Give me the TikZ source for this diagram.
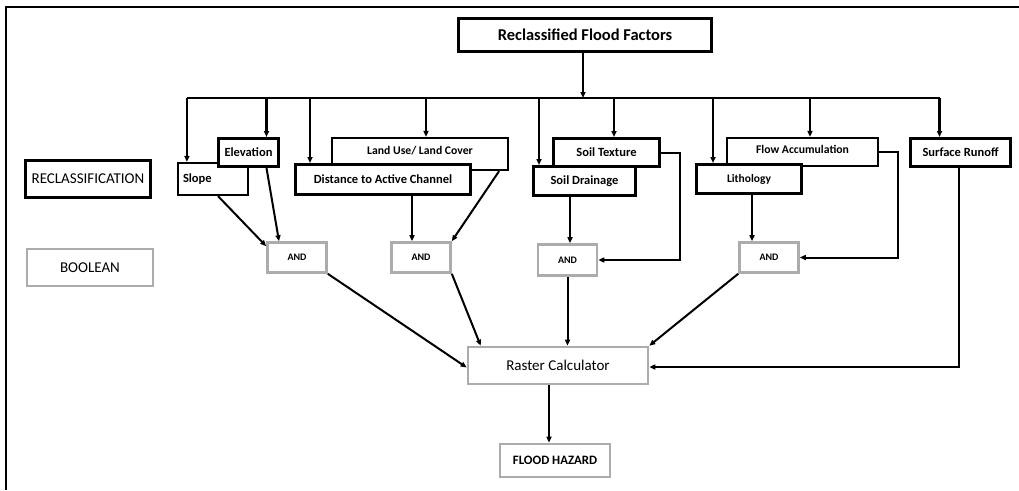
\documentclass[tikz,border=0pt]{standalone}
\usepackage{fontspec}
\setmainfont{Carlito}
\usetikzlibrary{arrows.meta}

\begin{document}
\begin{tikzpicture}[x=1pt, y=-1pt,
    factor/.style={draw, fill=white, line width=3pt, inner sep=0pt,
        font=\bfseries\fontsize{12.5}{14}\selectfont},
    thinfactor/.style={factor, line width=2.2pt},
    opbox/.style={draw=gray!65, fill=white, line width=2.6pt, inner sep=0pt},
    andbox/.style={opbox, minimum width=59pt, minimum height=30pt,
        font=\bfseries\fontsize{10}{11}\selectfont},
    legend/.style={draw, fill=white, line width=3pt, inner sep=0pt,
        font=\fontsize{15}{17}\selectfont},
    arr/.style={-{Triangle[length=6pt,width=5pt]}, line width=2pt},
    busline/.style={line width=2.8pt}]
    \useasboundingbox[fill=white] (0,0) rectangle (1019,490);

    % Frame
    \draw[line width=2.2pt] (6,490) -- (6,7) -- (1019,7);

    % Top box
    \node[factor, minimum width=253pt, minimum height=33pt,
        font=\bfseries\fontsize{16.5}{19}\selectfont] (top) at (585,35) {Reclassified Flood Factors};
    \coordinate (bus) at (583,98);

    % Factors (back ones first)
    \node[thinfactor, minimum width=70pt, minimum height=32pt, text width=60pt, align=left] (slope) at (213,179) {Slope};
    \node[factor, minimum width=60pt, minimum height=28pt] (elev) at (248.5,152.5) {Elevation};
    \node[thinfactor, minimum width=176pt, minimum height=32pt, text depth=8pt,
        font=\bfseries\fontsize{11.7}{13}\selectfont] (landuse) at (420,154) {Land Use/ Land Cover};
    \node[factor, minimum width=175pt, minimum height=30pt] (dist) at (383,179.5) {Distance to Active Channel};
    \node[factor, minimum width=106pt, minimum height=28pt] (texture) at (606.5,152.5) {Soil Texture};
    \node[factor, minimum width=102pt, minimum height=29pt] (drain) at (584.5,181) {Soil Drainage};
    \node[thinfactor, minimum width=151pt, minimum height=28pt, text depth=6pt,
        font=\bfseries\fontsize{11.7}{13}\selectfont] (flow) at (802.5,152) {Flow Accumulation};
    \node[factor, minimum width=105pt, minimum height=29pt,
        font=\bfseries\fontsize{11.5}{13}\selectfont] (litho) at (749,179) {Lithology};
    \node[factor, minimum width=100pt, minimum height=28pt] (runoff) at (960.5,152.5) {Surface Runoff};

    % Legend
    \node[legend, minimum width=125pt, minimum height=37pt] (reclass) at (88,179) {RECLASSIFICATION};
    \node[legend, draw=gray!65, line width=2.6pt, minimum width=126pt, minimum height=37pt] (boolean) at (90,267.5) {BOOLEAN};

    % Boolean AND boxes
    \node[andbox] (and1) at (297,257.5) {AND};
    \node[andbox] (and2) at (421,257.5) {AND};
    \node[andbox, minimum height=31pt] (and3) at (567.5,260) {AND};
    \node[andbox] (and4) at (769,257.5) {AND};

    % Raster calculator and result
    \node[opbox, minimum width=180pt, minimum height=37pt, font=\fontsize{15}{17}\selectfont] (raster) at (558,365.5) {Raster Calculator};
    \node[opbox, minimum width=110pt, minimum height=33pt, font=\bfseries\fontsize{12.8}{14}\selectfont] (hazard) at (555,460.5) {FLOOD HAZARD};

    % Bus from top box
    \draw[arr, busline] (top.south -| bus) -- (bus);
    \draw[busline] ([xshift=10pt]slope.north west |- bus) -- ([xshift=-21pt]runoff.north |- bus);
    \draw[arr, busline] ([xshift=10pt]slope.north west |- bus) -- ([xshift=10pt]slope.north west);
    \draw[arr, busline] ([xshift=18pt]elev.north |- bus) -- ([xshift=18pt]elev.north);
    \draw[arr, busline] ([xshift=16pt]dist.north west |- bus) -- ([xshift=16pt]dist.north west);
    \draw[arr, busline] ([xshift=6pt]landuse.north |- bus) -- ([xshift=6pt]landuse.north);
    \draw[arr, busline] ([xshift=7pt]drain.north west |- bus) -- ([xshift=7pt]drain.north west);
    \draw[arr, busline] ([xshift=7.5pt]texture.north |- bus) -- ([xshift=7.5pt]texture.north);
    \draw[arr, busline] ([xshift=18pt]litho.north west |- bus) -- ([xshift=18pt]litho.north west);
    \draw[arr, busline] ([xshift=7.5pt]flow.north |- bus) -- ([xshift=7.5pt]flow.north);
    \draw[arr, busline] ([xshift=-21pt]runoff.north |- bus) -- ([xshift=-21pt]runoff.north);

    % Factors to AND boxes
    \draw[arr] ([xshift=5pt]slope.south) -- ([yshift=-5pt]and1.north west);
    \draw[arr] ([xshift=18pt]elev.south) -- ([xshift=-18pt]and1.north);
    \draw[arr] ([xshift=29pt]dist.south) -- ([xshift=29pt]dist.south |- and2.north);
    \draw[arr] ([xshift=-10pt]landuse.south east) -- (and2.north east);
    \draw[arr] ([xshift=-14.5pt]drain.south) -- ([xshift=-14.5pt]drain.south |- and3.north);
    \draw[arr] (texture.east) -- ++(19,0) |- (and3.east);
    \draw[arr] ([xshift=3pt]litho.south) -- ([xshift=3pt]litho.south |- and4.north);
    \draw[arr] (flow.east) -- ++(19,0) |- (and4.east);

    % Into the raster calculator
    \draw[arr] (and1.south east) -- ([yshift=-2pt]raster.west);
    \draw[arr] (and2.south east) -- ([xshift=14pt]raster.north west);
    \draw[arr] (and3.south) -- (and3.south |- raster.north);
    \draw[arr] (and4.south west) -- (raster.north east);
    \draw[arr] ([xshift=-1.5pt]runoff.south) |- ([yshift=-1.5pt]raster.east);
    \draw[arr] ([xshift=-9pt]raster.south) -- ([xshift=-9pt]raster.south |- hazard.north);
\end{tikzpicture}
\end{document}
